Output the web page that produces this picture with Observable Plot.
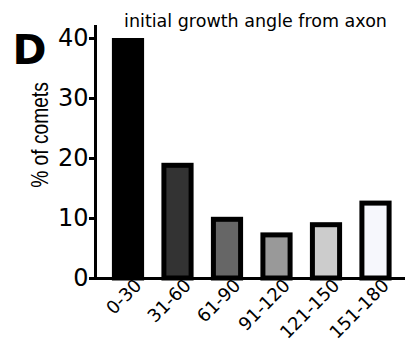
<!DOCTYPE html>
<html><head><meta charset="utf-8">
<script src="https://cdn.jsdelivr.net/npm/d3@7"></script>
<script src="https://cdn.jsdelivr.net/npm/@observablehq/plot@0.6"></script>
<style>body{margin:0;background:#fff}</style>
</head><body><div id="chart"></div>
<script>
const categories = ["0-30","31-60","61-90","91-120","121-150","151-180"];
const percents = [40, 19.2, 10.2, 7.6, 9.3, 12.9];
const fills = ["#000000","#333333","#666666","#999999","#cccccc","#f6f7fc"];
const yTicks = [0,10,20,30,40];
const title = "initial growth angle from axon";
const panel = "D";
const yLabel = "% of comets";
const data = categories.map((c,i)=>({c, v: percents[i], f: fills[i]}));
const font = "DejaVu Sans";
const chart = Plot.plot({
  width: 405, height: 350,
  marginLeft: 95, marginRight: 0, marginTop: 26, marginBottom: 72,
  style: {fontFamily: font, background: "#fff", color: "#000", overflow: "visible"},
  x: {domain: categories, range: [103.25, 400.25], paddingInner: 0.35, paddingOuter: 0.175, round: false, axis: null},
  y: {domain: [0, 42], axis: null},
  marks: [
    Plot.barY(data, {x: "c", y: "v", fill: "f", stroke: "#000", strokeWidth: 5, insetLeft: 2.5, insetRight: 2.5, insetTop: 2.5}),
    Plot.ruleY([0], {strokeWidth: 3}),
    Plot.frame({anchor: "left", strokeWidth: 3}),
    Plot.axisY({ticks: yTicks, tickSize: 6, tickPadding: 1, strokeWidth: 3, fontSize: 24, label: null}),
    Plot.axisX({tickRotate: -45, tickSize: 0, tickPadding: 4, dx: 10, fontSize: 18, label: null}),
    Plot.text([yLabel], {frameAnchor: "left", textAnchor: "middle", lineAnchor: "middle", rotate: -90, dx: -55, dy: -17.5, fontSize: 24, fontFamily: "Liberation Sans, Arial, sans-serif"}),
    Plot.text([title], {frameAnchor: "top", dx: 5, lineAnchor: "bottom", fontSize: 17.5}),
    Plot.text([panel], {frameAnchor: "top-left", dx: -83, dy: 37, textAnchor: "start", lineAnchor: "bottom", fontSize: 41, fontWeight: "bold"})
  ]
});
// condense the rotated axis title along its length, as in the original figure
d3.select(chart).selectAll("text").filter(function () { return this.textContent === yLabel; })
  .attr("transform", function () { return (this.getAttribute("transform") || "") + " scale(0.8,1)"; });
document.getElementById("chart").appendChild(chart);
</script>
</body></html>
